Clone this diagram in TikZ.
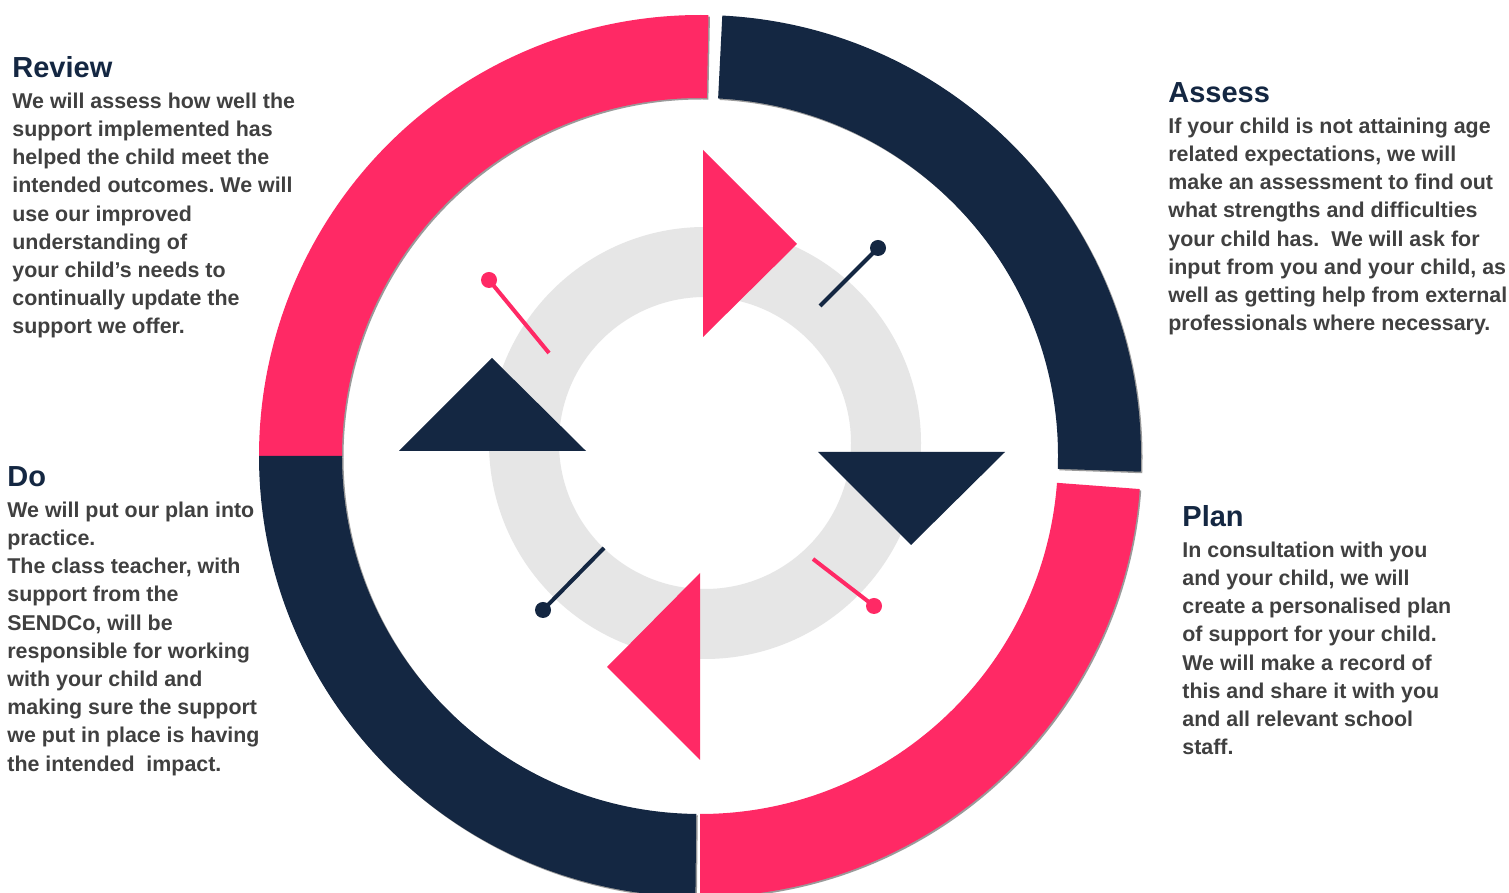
\documentclass[tikz,border=0pt]{standalone}
\usepackage{fontspec}
\setmainfont{Liberation Sans}
\usetikzlibrary{calc}

\definecolor{cyclepink}{HTML}{FF2965}
\definecolor{cyclenavy}{HTML}{142742}
\definecolor{ringgray}{HTML}{E6E6E6}
\definecolor{bodygray}{HTML}{404040}
\definecolor{edgeshade}{HTML}{9A9A9A}

% radii of the outer cycle ring
\newcommand\ringR{441}
\newcommand\ringr{358}
% one quarter of the outer ring: colour, start angle, end angle, centre
\newcommand\ringseg[4]{%
  \fill[#1] ([shift={(#2:\ringR)}]#4) arc[start angle=#2, end angle=#3, radius=\ringR]
     -- ([shift={(#3:\ringr)}]#4) arc[start angle=#3, end angle=#2, radius=\ringr] -- cycle;}

% heading + description, first baseline = heading baseline
\newcommand\stageblock[2]{\vtop{\hsize=220pt\parindent=0pt\raggedright\frenchspacing
  \lineskiplimit=-20pt
  {\fontsize{14.5pt}{14.1pt}\selectfont\bfseries\leavevmode\color{cyclenavy}#1\par}%
  \vskip1.1pt
  {\fontsize{10.7pt}{14.1pt}\selectfont\bfseries\leavevmode\color{bodygray}#2\par}}}

\tikzset{
  pinline/.style={line width=2pt, line cap=butt},
  stagetext/.style={anchor=base west, inner sep=0pt},
}

\begin{document}
\begin{tikzpicture}[x=0.5pt,y=0.5pt]
\useasboundingbox (0,0) rectangle (1509,893);
\clip (0,0) rectangle (1509,893);
\fill[white] (0,0) rectangle (1509,893);

% outer ring: soft edge shade, then the four coloured quarters
\ringseg{edgeshade}{88.9}{180}{701.5,435.5}
\ringseg{edgeshade}{-2.05}{87.1}{701.5,435.5}
\ringseg{edgeshade}{-90}{-4.3}{701.5,435.5}
\ringseg{edgeshade}{180}{269.4}{701.5,435.5}
\ringseg{cyclepink}{88.9}{180}{700,437}
\ringseg{cyclenavy}{-2.05}{87.1}{700,437}
\ringseg{cyclepink}{-90}{-4.3}{700,437}
\ringseg{cyclenavy}{180}{269.4}{700,437}

% inner grey ring
\fill[ringgray, even odd rule] (705,450) circle[radius=216] (705,450) circle[radius=146];

% pins
\coordinate (pinTR) at (878,645);  \coordinate (pinTRfoot) at (820,587);
\coordinate (pinTL) at (489,613);  \coordinate (pinTLfoot) at (549,540);
\coordinate (pinBR) at (874,287);  \coordinate (pinBRfoot) at (813,334);
\coordinate (pinBL) at (543,283);  \coordinate (pinBLfoot) at (604,345);
\draw[pinline, cyclenavy] (pinTRfoot) -- (pinTR);
\fill[cyclenavy] (pinTR) circle[radius=8];
\draw[pinline, cyclepink] (pinTLfoot) -- (pinTL);
\fill[cyclepink] (pinTL) circle[radius=8];
\draw[pinline, cyclepink] (pinBRfoot) -- (pinBR);
\fill[cyclepink] (pinBR) circle[radius=8];
\draw[pinline, cyclenavy] (pinBLfoot) -- (pinBL);
\fill[cyclenavy] (pinBL) circle[radius=8];

% direction triangles
\fill[cyclepink] (703,743) -- (797,649) -- (703,556) -- cycle;
\fill[cyclenavy] (818,441) -- (1005,441) -- (911,348) -- cycle;
\fill[cyclepink] (700,320) -- (607,226) -- (700,133) -- cycle;
\fill[cyclenavy] (399,442) -- (586,442) -- (492,535) -- cycle;

% stage descriptions
\node[stagetext] (review) at (12,815) {\stageblock{Review}{%
We will assess how well the\\
support implemented has\\
helped the child meet the\\
intended outcomes. We will\\
use our improved\\
understanding of\\
your child’s needs to\\
continually update the\\
support we offer.}};

\node[stagetext] (assess) at (1168,790) {\stageblock{Assess}{%
If your child is not attaining age\\
related expectations, we will\\
make an assessment to find out\\
what strengths and difficulties\\
your child has.\ \ We will ask for\\
input from you and your child, as\\
well as getting help from external\\
professionals where necessary.}};

\node[stagetext] (do) at (7,406) {\stageblock{Do}{%
We will put our plan into\\
practice.\\
The class teacher, with\\
support from the\\
SENDCo, will be\\
responsible for working\\
with your child and\\
making sure the support\\
we put in place is having\\
the intended\ \ impact.}};

\node[stagetext] (plan) at (1182,366) {\stageblock{Plan}{%
In consultation with you\\
and your child, we will\\
create a personalised plan\\
of support for your child.\\
We will make a record of\\
this and share it with you\\
and all relevant school\\
staff.}};
\end{tikzpicture}
\end{document}
